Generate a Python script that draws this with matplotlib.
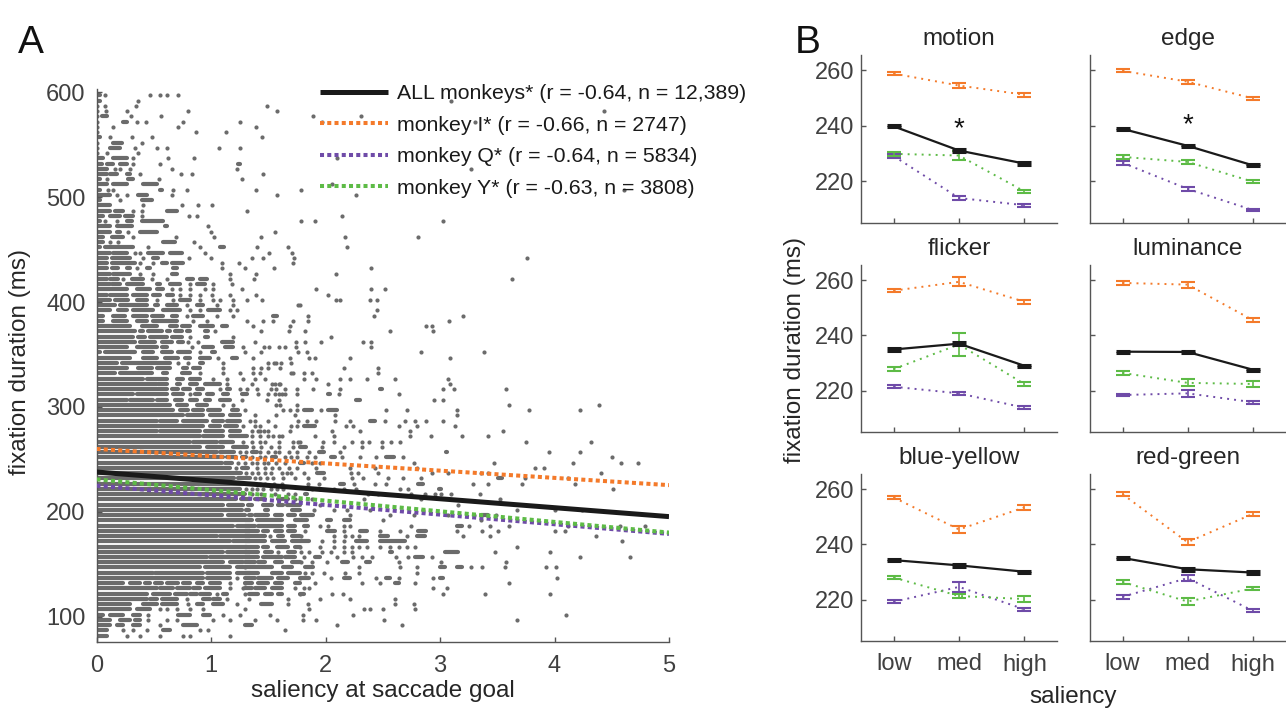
import matplotlib

matplotlib.use("Agg")
import matplotlib.pyplot as plt

plt.rcParams["font.family"] = ["Liberation Sans", "DejaVu Sans"]

GRAY = "#6b6b6b"
C_ALL = "#1a1a1a"
C_I = "#f47a2a"
C_Q = "#6f4ba8"
C_Y = "#5dbb46"
AXC = "#555555"
TXT = "#262626"

# ---------------- panel A: fits ----------------
FIT_X = [0, 5]
FIT_ALL = [238.0, 195.5]
FIT_I = [260.0, 225.5]
FIT_Q = [225.0, 179.0]
FIT_Y = [231.0, 180.3]
LEG_LABELS = [
    "ALL monkeys* (r = -0.64, n = 12,389)",
    "monkey I* (r = -0.66, n = 2747)",
    "monkey Q* (r = -0.64, n = 5834)",
    "monkey Y* (r = -0.63, n = 3808)",
]

# ---------------- panel A: fixations, read row by row ----------------
# each row: (fixation duration, [x of single dots or (x0, x1) runs of touching dots])
SCATTER_TOP = [
    (597, [(0, 0.03), 0.074, 0.467, 0.554, 0.613, 0.714]),
    (592, [(0, 0.03), 0.36]),
    (587, [0, 0.074, 0.345, 1.486]),
    (582, [0, 0.083, 0.263, 0.796, 1.573]),
    (577, [0, (0.045, 0.089), 0.298, 0.563]),
    (572, [0, (0.234, 0.263), 0.35, 0.43, 0.758, 1.253]),
    (567, [0, 0.147, 0.709, 1.39]),
    (562, [0, 0.869, 1.13]),
    (557, [(0, 0.03), 0.118, 0.307, 0.482, 1.442]),
    (552, [0, (0.147, 0.22), 0.40]),
    (547, [0, (0.118, 0.205), 0.336, 0.525, 0.613, 1.072, 1.253]),
    (542, [0, 0.089, 0.36]),
    (537, [(0, 0.06), (0.147, 0.263), 0.321, 0.627, 0.854]),
    (532, [(0, 0.045), (0.089, 0.147), (0.205, 0.263), 0.321, 0.554, (1.233, 1.253)]),
    (527, [(0, 0.089), 0.161, 0.205, 0.292, 0.656, 1.224]),
    (522, [(0, 0.089), (0.118, 0.176), (0.263, 0.292), 0.38, 0.735, 0.831, 1.457]),
    (517, [(0, 0.03), 0.089, (0.278, 0.321), 0.546, 1.267]),
    (512, [(0, 0.089), (0.147, 0.263), (0.409, 0.525)]),
    (507, [(0, 0.03), 0.103, 0.147, (0.554, 0.569), 0.671, 0.793, 1.39]),
    (502, [(0, 0.118), 0.176, 0.263, (0.365, 0.438), 0.656, 1.579]),
    (497, [(0, 0.03), 0.205, (0.394, 0.482)]),
    (492, [(0, 0.118), 0.409, 0.744, 0.889, 1.005]),
    (487, [(0, 0.118), (0.161, 0.234), 0.321, 0.394, (0.613, 0.70), 1.311]),
    (482, [(0, 0.06), (0.118, 0.205), (0.249, 0.321), 0.394, 0.807, 0.88]),
    (477, [(0, 0.03), 0.074, 0.176, (0.263, 0.307), (0.394, 0.583)]),
    (472, [(0, 0.118), (0.176, 0.307), (0.598, 0.613), 0.976]),
    (467, [(0, 0.118), (0.176, 0.205), 0.278, (0.38, 0.525), 0.997, 1.559]),
    (462, [(0, 0.06), (0.132, 0.234), 0.321, 0.694, 1.029, 1.436]),
    (457, [(0, 0.06), 0.118, 0.19, (0.583, 0.685), 0.854]),
    (452, [(0, 0.03), (0.074, 0.321), 0.452, 0.904, (1.078, 1.113), 1.399, 1.675]),
    (447, [(0, 0.118), (0.147, 0.263), 0.336, 0.38, (0.452, 0.583), (0.642, 0.744), 0.947, 1.509, 1.704]),
    (442, [(0, 0.089), (0.132, 0.292), 0.409, (0.496, 0.54), 0.81, 1.0, 1.355, 1.457, 1.725]),
    (437, [(0, 0.089), (0.132, 0.336), 0.38, 0.496, (0.569, 0.613), (0.656, 0.758), 1.093, 1.247, 1.719]),
    (432, [(0, 0.089), (0.132, 0.19), (0.263, 0.292), 0.35, (0.438, 0.467), (0.671, 0.70), 1.096, 1.297, 1.553]),
    (427, [(0, 0.118), (0.147, 0.292), 0.38, 0.496, (0.656, 0.70), 1.165, 1.393]),
    (422, [(0, 0.089), (0.118, 0.19), 0.234, (0.307, 0.409), 0.482, 0.613, (0.787, 0.845), (0.904, 0.962), 1.165, 1.375]),
    (417, [(0, 0.118), (0.132, 0.205), (0.263, 0.409), (0.525, 0.554), (0.642, 0.729), 0.816, (0.875, 0.947), 1.02, 1.18]),
    (412, [(0, 0.263), (0.35, 0.467), (0.525, 0.583), 0.656, 0.729, 0.816, 0.947, 1.02, 1.267]),
    (407, [(0, 0.089), (0.118, 0.263), (0.321, 0.438), (0.496, 0.554), (0.613, 0.671), 0.729, 0.816, 0.904, 1.005, 1.165, 1.393]),
    (402, [(0, 0.118), (0.161, 0.278), (0.35, 0.438), 0.525, 0.671, (0.729, 0.816), 0.904, 1.02, 1.078, 1.195, 1.311, 1.442]),
    (397, [(0, 0.161), (0.205, 0.438), (0.51, 0.54), (0.613, 0.70), 0.787, (0.875, 0.933), 1.049, 1.195, 1.762]),
    (392, [(0, 0.118), (0.19, 0.263), (0.321, 0.496), (0.583, 0.729), 0.816, 0.904, (0.976, 1.078), 1.165, 1.224]),
    (387, [(0, 0.06), (0.147, 0.249), (0.321, 0.438), (0.482, 0.583), (0.656, 0.70), 0.787, (0.845, 0.933), 1.049, 1.195, (1.544, 1.573)]),
    (382, [(0, 0.06), (0.147, 0.263), (0.35, 0.438), (0.496, 0.70), 0.845, 0.962, 1.311, 1.457, 1.544, 1.719]),
    (377, [(0, 0.292), (0.394, 0.525), (0.642, 0.70), (0.744, 0.816), (0.904, 1.02), (1.093, 1.136), 1.37, 1.69]),
]

SCATTER_CORE = [
    (372, [(0, 0.336), (0.38, 0.409), (0.452, 0.569), (0.612, 0.641), (0.685, 0.743), (0.787, 0.816), (0.947, 0.976), 1.034]),
    (367, [(0, 0.321), (0.365, 0.423), (0.467, 0.612), (0.656, 0.743), 0.816, (0.947, 0.976), 1.194]),
    (362, [(0, 0.336), (0.38, 0.51), (0.569, 0.656), (0.714, 0.758), 0.801, 0.889, (1.092, 1.194)]),
    (357, [(0, 0.263), (0.35, 0.525), (0.569, 0.612), 0.83, (0.932, 1.02), (1.121, 1.194), 1.282]),
    (352, [(0, 0.03), (0.074, 0.336), (0.409, 0.496), (0.569, 0.656), (0.714, 0.816), 0.903, (1.005, 1.034), 1.296]),
    (347, [(0, 0.292), (0.409, 0.525), (0.598, 0.714), (0.772, 0.816), (0.903, 0.991), 1.063, (1.18, 1.223)]),
    (342, [(0, 0.176), (0.22, 0.641), 0.714, 0.801, (0.903, 0.932), 1.107]),
    (337, [(0, 0.263), (0.365, 0.481), (0.525, 0.641), (0.758, 0.787), (0.845, 0.903), 1.107]),
    (332, [(0, 0.16), (0.205, 0.481), (0.583, 0.612), (0.743, 0.816), 0.903, 1.107, 1.253]),
    (327, [(0, 0.409), (0.438, 0.612), (0.70, 0.758), (0.816, 0.903), 1.02, 1.136, 1.282]),
    (322, [(0, 0.525), (0.54, 0.612), (0.70, 0.729), (0.816, 0.874), (0.947, 1.078), 1.136]),
    (317, [(0, 0.612), (0.656, 0.714), (0.758, 0.816), (0.874, 0.932), 1.078, (1.136, 1.165), 1.253, 1.311]),
    (312, [(0, 0.321), (0.35, 0.612), (0.67, 0.758), 0.816, (0.86, 0.903), (0.961, 1.02), (1.107, 1.15), (1.267, 1.311)]),
    (307, [(0, 0.263), (0.292, 0.496), (0.525, 0.612), (0.685, 0.743), (0.816, 0.874), (0.947, 0.991), (1.078, 1.165), 1.267]),
    (302, [(0, 0.641), (0.70, 0.787), (0.874, 0.961), 1.107, 1.194]),
    (297, [(0, 0.67), (0.729, 0.801), (0.845, 0.932), (0.976, 1.078), (1.18, 1.238), 1.296]),
    (292, [(0, 0.758), (0.787, 0.932), (0.991, 1.107), (1.165, 1.253)]),
    (287, [(0, 0.525), (0.554, 0.70), (0.758, 0.961), (1.02, 1.107), (1.136, 1.253)]),
    (282, [(0, 0.932), (0.991, 1.078), (1.121, 1.223), 1.282]),
    (277, [(0, 0.525), (0.554, 0.903), (0.947, 1.107), (1.165, 1.253)]),
    (272, [(0, 0.903), (0.932, 1.107), (1.165, 1.311)]),
    (267, [(0, 0.816), (0.845, 1.049), (1.078, 1.194), 1.282]),
    (262, [(0, 0.903), (0.961, 1.107), (1.194, 1.311)]),
    (257, [(0, 1.049), (1.078, 1.20), 1.25, 1.31]),
    (252, [(0, 1.107), (1.136, 1.22), (1.27, 1.31)]),
    (247, [(0, 1.092), (1.121, 1.18), 1.24, 1.30]),
    (242, [(0, 1.165), 1.22, (1.27, 1.32)]),
    (237, [(0, 1.26), 1.31]),
    (232, [(0, 1.20), (1.24, 1.34)]),
    (227, [(0, 1.28)]),
    (222, [(0, 1.25), 1.31]),
    (217, [(0, 1.30)]),
    (212, [(0, 1.22), (1.26, 1.34)]),
    (207, [(0, 1.107), (1.15, 1.28)]),
    (202, [(0, 1.27)]),
    (197, [(0, 1.092), (1.15, 1.30)]),
    (192, [(0, 1.34)]),
    (187, [(0, 1.194), (1.223, 1.34)]),
    (182, [(0, 1.34)]),
    (177, [(0, 1.049), (1.078, 1.34)]),
    (172, [(0, 1.165), (1.194, 1.34)]),
    (167, [(0, 1.311)]),
    (162, [(0, 1.107), (1.136, 1.34)]),
    (157, [(0, 0.961), (0.991, 1.34)]),
    (152, [(0, 1.107), (1.165, 1.282)]),
    (147, [(0, 0.903), (0.947, 1.165), (1.223, 1.34)]),
    (142, [(0, 0.496), (0.51, 0.932), (0.961, 1.165), (1.223, 1.34)]),
    (137, [(0, 0.932), (0.961, 1.165), 1.223]),
    (132, [(0, 0.234), (0.292, 0.38), (0.423, 0.467), (0.51, 0.569), (0.612, 0.714), (0.758, 0.816), (0.874, 0.932), (0.991, 1.078), 1.165, 1.296]),
    (127, [(0, 0.525), (0.554, 0.67), (0.70, 0.816), (0.845, 0.903), (0.947, 1.078), 1.165, 1.282]),
    (122, [(0, 0.438), (0.496, 0.641), (0.685, 0.787), (0.816, 0.874), (0.903, 0.991), 1.049, (1.107, 1.136), 1.296]),
    (117, [(0, 0.438), (0.467, 0.525), (0.569, 0.70), 0.787, (0.932, 0.991), (1.02, 1.078), 1.136]),
    (112, [(0, 0.292), (0.409, 0.525), (0.569, 0.70), 0.801, (0.874, 0.932), (1.02, 1.107), 1.223]),
    (107, [(0, 0.292), (0.35, 0.467), 0.554, 0.612, 0.70, 0.816, 0.932]),
    (102, [(0, 0.06), (0.12, 0.234), (0.321, 0.38), 0.452, (0.714, 0.816), (0.932, 0.991), 1.107, 1.253]),
    (97, [(0, 0.12), (0.205, 0.292), (0.336, 0.38), 0.452, 0.612, 0.70, 1.02, 1.165]),
    (92, [(0, 0.12), (0.176, 0.234), (0.321, 0.38), 0.554, (0.758, 0.874)]),
    (87, [(0, 0.089), 0.234, 0.321, 0.438, (0.583, 0.641), 0.903, 0.976]),
    (82, [(0, 0.089), 0.263, 0.38, 0.554, 0.758, 0.816, 1.165]),
]

SCATTER_MID = [
    (372, [1.44, 1.68]),
    (362, [1.38, 1.74]),
    (357, [1.46, 1.51, 1.59, 1.65, 1.74]),
    (352, [1.44, 1.76]),
    (347, [1.37, 1.69]),
    (342, [1.50, 1.55, 1.57, 1.61, 1.70]),
    (337, [1.37, 1.44, 1.50, 1.60]),
    (332, [1.37, 1.43, 1.70, 1.72]),
    (327, [1.38, 1.47]),
    (322, [1.36, 1.53, 1.56, 1.59, 1.60]),
    (317, [1.40, 1.52, 1.57, 1.65, 1.75]),
    (312, [1.41, 1.50, 1.56, 1.59, 1.62, 1.65, 1.75]),
    (307, [1.49, 1.59]),
    (302, [1.57, 1.60, 1.75]),
    (297, [1.63, 1.69, 1.75]),
    (292, [1.38, 1.57, 1.73]),
    (287, [1.34, 1.38, 1.50, 1.76]),
    (282, [1.38, 1.43, 1.56, 1.70, 1.75]),
    (277, [1.36, 1.41, 1.43, 1.46, 1.50, 1.69]),
    (272, [1.36, 1.43, 1.50, 1.54, 1.59, 1.62]),
    (267, [1.36, 1.43, 1.47, 1.59, 1.72, 1.76]),
    (262, [1.37, 1.44, 1.52, 1.59, 1.72]),
    (257, [(1.36, 1.40), 1.43, 1.50, 1.56, 1.59, 1.68, 1.75]),
    (252, [1.36, 1.43, 1.47, (1.53, 1.57), 1.65, 1.70, 1.75]),
    (247, [1.36, 1.40, 1.46, 1.50, 1.57, 1.65]),
    (242, [1.40, 1.47, 1.53, 1.59, 1.68, 1.75]),
    (237, [1.36, 1.41, 1.47, 1.52, 1.62, 1.66, 1.70]),
    (232, [1.38, 1.43, 1.49, 1.54, 1.63, 1.73]),
    (227, [(1.33, 1.38), 1.43, 1.47, 1.55, 1.62]),
    (222, [1.36, 1.40, 1.45, 1.52, 1.58, 1.63]),
    (217, [1.355, 1.44, 1.56, 1.675, 1.733]),
    (212, [(1.384, 1.47), (1.588, 1.675), 1.733]),
    (207, [(1.32, 1.355), (1.457, 1.53), (1.588, 1.632), (1.66, 1.777)]),
    (202, [(1.31, 1.33), (1.47, 1.50), (1.704, 1.777)]),
    (197, [(1.33, 1.355), (1.384, 1.50), (1.56, 1.617), (1.675, 1.733)]),
    (192, [(1.30, 1.355), (1.40, 1.617), (1.733, 1.777)]),
    (187, [(1.30, 1.384), (1.413, 1.617), (1.675, 1.733)]),
    (182, [(1.30, 1.413), (1.457, 1.50), (1.56, 1.617), (1.675, 1.733)]),
    (177, [(1.30, 1.47), 1.515, (1.588, 1.632), (1.704, 1.777)]),
    (172, [(1.30, 1.47), (1.53, 1.646), (1.704, 1.777)]),
    (167, [(1.30, 1.413), (1.457, 1.50), (1.573, 1.675), (1.733, 1.777)]),
    (162, [(1.30, 1.413), (1.47, 1.53), 1.588, (1.675, 1.733)]),
    (157, [(1.30, 1.413), (1.457, 1.617), (1.646, 1.733)]),
    (152, [(1.30, 1.384), (1.413, 1.47), (1.56, 1.617), (1.704, 1.777)]),
    (147, [1.30, (1.34, 1.53), (1.632, 1.704)]),
    (142, [(1.30, 1.413), (1.53, 1.617), (1.675, 1.777)]),
    (137, [(1.30, 1.384), (1.413, 1.53), (1.588, 1.675), 1.777]),
    (132, [(1.30, 1.355), (1.413, 1.50), (1.56, 1.617), (1.733, 1.777)]),
    (127, [(1.30, 1.355), (1.384, 1.47), (1.53, 1.617), 1.733]),
    (122, [(1.33, 1.413), (1.47, 1.53), (1.588, 1.617), 1.777]),
    (117, [1.33, 1.675]),
    (112, [(1.44, 1.53), 1.675]),
    (107, [1.30]),
    (102, [1.515]),
    (97, [1.384, 1.573]),
    (92, [(1.30, 1.355)]),
    (87, [1.646]),
]

SCATTER_RIGHT = [
    (592, [3.10]), (582, [4.43]), (577, [1.89, 2.31]), (572, [1.97, 3.31]),
    (537, [2.10]), (527, [3.27]), (512, [2.06]), (507, [1.79, 4.61]),
    (502, [2.27]), (482, [2.14]), (477, [1.79, 1.91, 3.03]), (462, [2.17, 2.81]),
    (452, [2.19]), (442, [3.76]), (432, [2.40]), (427, [2.09]), (422, [3.63]),
    (412, [1.92, 2.40, 2.52]), (407, [2.02]), (402, [2.09, 2.13, 2.39, 2.45]),
    (397, [1.78]), (392, [2.45]), (387, [1.85, 2.42, 3.20]), (382, [1.85, 3.08]),
    (377, [2.88, 2.93]),
    (372, [1.82, 2.56, 2.94]),
    (367, [2.05]),
    (362, [1.82, 1.96, 2.33, 2.40]),
    (357, [2.40]),
    (352, [1.84, 2.83, 3.38]),
    (347, [1.86, 1.91, 2.21, 3.09]),
    (337, [2.16, 2.46]),
    (332, [1.81, 1.88, 2.46]),
    (327, [1.81, 1.92, 2.13, 2.21, 2.36, 2.61, 3.07]),
    (322, [2.02, 3.09]),
    (317, [1.89, 2.13, (2.48, 2.49), 3.03, 3.12, 3.58]),
    (312, [(2.02, 2.04), 2.12, 2.64]),
    (307, [(2.27, 2.30), 2.95, 3.03]),
    (302, [3.60, 4.39]),
    (297, [(1.81, 1.88), 1.96, (2.02, 2.10), 2.53, 2.71, 3.15, 3.78, 4.22]),
    (292, [2.08, 3.15]),
    (287, [1.84, 1.92, 2.08, 2.21, (2.39, 2.43), 2.52, 2.69, 2.78, 2.88, 3.03]),
    (282, [(1.81, 1.91), 2.18, 2.24, 2.64, 2.80, 3.13]),
    (277, [2.06, 2.30, 2.74, 3.55]),
    (272, [1.91, 2.07, 2.74, 2.92, 3.19, 3.42]),
    (267, [1.78, 1.98, 2.07, 2.23, 2.32, 2.38, 2.49, 2.57, 2.65, 3.75, 4.32]),
    (262, [(1.78, 1.83), 1.97, 2.16, 2.32, 2.49]),
    (257, [1.86, (1.94, 1.99), 2.13, (3.05, 3.06), 3.95, 4.22]),
    (252, [1.84, 1.91, (2.05, 2.08), 2.14, 2.30, 2.44, (2.53, 2.60), 2.68, 4.50]),
    (247, [(1.78, 1.81), 1.88, 1.95, 2.77, 3.47, 4.16, 4.58, 4.73]),
    (242, [1.92, 2.21, 2.43, 2.80, 3.83, 3.91]),
    (237, [1.81, (1.93, 1.99), 2.22, 2.28, 2.46, 2.93, 3.07, 3.36, 3.42, 4.41]),
    (232, [1.85, 1.99, 2.23, 2.33, 2.55, 2.68, 2.83, (3.51, 3.54), 3.74, 4.12]),
    (227, [1.85, 1.94, (2.13, 2.16), 2.25, 2.43, 2.53, (2.81, 2.85), 3.29, 3.42, 3.72, 4.18]),
    (222, [1.88, 1.95, 2.07, 2.16, 2.27, 2.65, 2.72, (2.99, 3.01), 4.51]),
    (217, [(1.82, 1.84), 2.37, 2.46, 2.75, 2.87, 2.96, 3.01, 3.10, 3.35]),
    (212, [1.78, 1.88, 2.34, 2.83, 3.52]),
    (207, [1.95, 3.16]),
    (202, [1.90, 2.07, 2.19, 2.39, 2.85, 3.67, 4.00, 4.24]),
    (197, [(1.79, 1.89), 2.21, 2.56, 2.77, 3.07, 3.30, (3.36, 3.42), 3.49]),
    (192, [(1.78, 1.84), (2.01, 2.05), (2.16, 2.21), 2.50, 3.36]),
    (187, [(1.81, 1.85), 1.95, 2.02, 2.16, 2.21, 2.75, (3.15, 3.19), 3.25, 3.44, 3.60, 4.12, 4.57, 4.79]),
    (182, [1.82, (2.01, 2.08), 2.16, (2.30, 2.36), 2.48, 2.65, (2.81, 2.88), 3.15, 3.37, 3.51, 4.00, 4.09]),
    (177, [1.79, 2.07, 2.17, 2.23, 2.29, (2.48, 2.55), 2.71, (2.80, 2.87), 3.20, 3.44, 4.36]),
    (172, [(1.78, 1.86), 1.97, 2.07, 2.16, (2.27, 2.36), (2.48, 2.69), 4.59]),
    (167, [1.78, 1.95, 2.07, 2.16, 2.23, 2.29, 2.36, 2.48, 2.56, 2.64, 2.71, 2.78, 3.67]),
    (162, [1.79, 1.86, 1.97, 2.05, 2.16, 2.23, (2.56, 2.58), (3.04, 3.16), 3.48, 3.96]),
    (157, [1.81, (1.91, 1.95), 2.10, 2.24, 2.32, 2.41, 2.62, 2.72, (2.78, 2.85), 2.93, 4.22, 4.66]),
    (152, [1.79, 1.88, 2.01, (2.14, 2.20), (2.35, 2.39), 2.64, 3.01, 3.58]),
    (147, [(1.82, 1.89), 2.29, 2.65, 2.80, (3.00, 3.04), (3.15, 3.19), 3.27, 3.37, 3.57, 3.93, 4.01]),
    (142, [1.82, 1.88, 1.99, 2.17, 2.29, 2.80]),
    (137, [(1.78, 1.86), 2.05, (2.16, 2.21), 2.44, (2.53, 2.56), 2.64, 2.94, (3.00, 3.03), 4.02]),
    (132, [1.91, 2.32, 2.48, (2.61, 2.64), 2.78, 3.60]),
    (127, [1.81, 1.86, 2.94, 3.06]),
    (122, [(1.78, 1.81), 2.06, 2.15, 3.03, 3.39, 3.96]),
    (117, [1.95, 2.21, 2.61]),
    (112, [1.85, 2.61, 2.77]),
    (107, [1.86, 2.34, 2.39, 2.50, 2.78]),
    (102, [1.80, 2.24, 4.10]),
    (97, [1.80, 1.92, 2.51, 3.67]),
    (92, [2.10, 2.67]),
]

# ---------------- panel B ----------------
FEATURES = ["motion", "edge", "flicker", "luminance", "blue-yellow", "red-green"]
SALIENCY = ["low", "med", "high"]
MEAN_ALL = [[239.8, 231.1, 226.4], [238.9, 232.8, 225.8], [234.9, 237.0, 229.0],
            [234.1, 234.0, 227.6], [234.3, 232.4, 230.1], [235.1, 231.0, 229.8]]
MEAN_I = [[258.8, 254.5, 251.2], [259.8, 255.9, 249.9], [256.2, 259.4, 252.2],
          [259.0, 258.4, 245.6], [257.0, 245.4, 253.4], [258.2, 240.8, 251.0]]
MEAN_Q = [[229.1, 214.0, 211.4], [226.7, 217.3, 209.7], [221.4, 219.0, 213.8],
          [218.4, 219.0, 215.8], [219.2, 224.6, 216.5], [221.0, 227.8, 216.0]]
MEAN_Y = [[229.9, 229.3, 216.4], [228.8, 227.0, 219.9], [227.8, 236.7, 222.4],
          [226.4, 222.8, 222.4], [228.0, 221.3, 220.2], [226.4, 219.3, 224.0]]
SEM_ALL = [[0.4, 0.5, 0.4], [0.4, 0.4, 0.4], [0.4, 0.6, 0.4],
           [0.4, 0.5, 0.4], [0.4, 0.6, 0.4], [0.4, 0.5, 0.4]]
SEM_I = [[0.6, 0.8, 0.7], [0.6, 0.7, 0.6], [0.6, 1.6, 0.7],
         [0.6, 1.1, 0.7], [0.6, 1.3, 0.8], [0.6, 1.2, 0.6]]
SEM_Q = [[0.6, 0.6, 0.5], [0.7, 0.6, 0.5], [0.6, 0.5, 0.5],
         [0.5, 1.2, 0.6], [0.5, 1.7, 0.6], [0.7, 1.1, 0.5]]
SEM_Y = [[0.8, 1.5, 0.6], [0.8, 0.7, 0.6], [0.6, 4.3, 0.6],
         [0.6, 1.3, 1.0], [0.6, 0.7, 1.0], [0.6, 1.2, 0.6]]
STAR_FEATURES = ["motion", "edge"]

W, H = 1286, 711


def px_axes(fig, left, top, right, bottom):
    return fig.add_axes([left / W, 1 - bottom / H, (right - left) / W, (bottom - top) / H])


def style_axes(ax, size=17):
    for s in ["top", "right"]:
        ax.spines[s].set_visible(False)
    for s in ["left", "bottom"]:
        ax.spines[s].set_color(AXC)
        ax.spines[s].set_linewidth(1.0)
    ax.tick_params(direction="in", length=3.5, width=1.0, color=AXC,
                   labelsize=size, labelcolor="#404040")


def draw_rows(ax, rows):
    ys, x0s, x1s, dx, dy = [], [], [], [], []
    for y, items in rows:
        for it in items:
            if isinstance(it, tuple):
                ys.append(y)
                x0s.append(it[0])
                x1s.append(it[1])
            else:
                dx.append(it)
                dy.append(y)
    lc = ax.hlines(ys, x0s, x1s, colors=GRAY, linewidth=3.0, zorder=1)
    lc.set_capstyle("round")
    ax.scatter(dx, dy, s=9.0, color=GRAY, linewidths=0, zorder=1)


fig = plt.figure(figsize=(W / 100, H / 100), dpi=100)
fig.patch.set_facecolor("white")

# ---- panel A ----
axA = px_axes(fig, 96.5, 89, 669, 642)
for rows in (SCATTER_TOP, SCATTER_CORE, SCATTER_MID, SCATTER_RIGHT):
    draw_rows(axA, rows)
dot = (0, (1.0, 0.8))
h_all, = axA.plot(FIT_X, FIT_ALL, color=C_ALL, lw=3.6, zorder=4, solid_capstyle="butt")
h_i, = axA.plot(FIT_X, FIT_I, color=C_I, lw=2.9, ls=dot, zorder=3)
h_q, = axA.plot(FIT_X, FIT_Q, color=C_Q, lw=2.9, ls=dot, zorder=3)
h_y, = axA.plot(FIT_X, FIT_Y, color=C_Y, lw=2.9, ls=dot, zorder=3)
axA.set_xlim(0, 5)
axA.set_ylim(76, 603)
axA.set_xticks(range(6))
axA.set_yticks([100, 200, 300, 400, 500, 600])
style_axes(axA)
axA.tick_params(axis="x", pad=9)
axA.tick_params(axis="y", pad=8)
leg = axA.legend([h_all, h_i, h_q, h_y], LEG_LABELS, loc="upper left",
                 bbox_to_anchor=(0.39, 1.009), frameon=False, fontsize=15.3,
                 handlelength=3.2, handletextpad=0.45, labelspacing=0.59,
                 borderpad=0, borderaxespad=0)
for t in leg.get_texts():
    t.set_color("#1a1a1a")
fig.text(383 / W, 1 - 691 / H, "saliency at saccade goal", fontsize=17.5,
         color=TXT, ha="center", va="center")
fig.text(20 / W, 1 - 362 / H, "fixation duration (ms)", fontsize=17.5,
         color=TXT, ha="center", va="center", rotation=90)
fig.text(31 / W, 1 - 43 / H, "A", fontsize=28, color="#111111", ha="center", va="center")

# ---- panel B ----
cols = [(861, 1057), (1090, 1285)]
rows_px = [(55, 223), (265, 432), (474, 641)]
xs = [1, 2, 3]
for k, feat in enumerate(FEATURES):
    r, c = divmod(k, 2)
    ax = px_axes(fig, cols[c][0], rows_px[r][0], cols[c][1], rows_px[r][1])
    for means, sems, col in ((MEAN_I, SEM_I, C_I), (MEAN_Q, SEM_Q, C_Q), (MEAN_Y, SEM_Y, C_Y)):
        ax.plot(xs, means[k], color=col, lw=1.4, ls=(0, (1, 2.6)), zorder=2)
        ax.errorbar(xs, means[k], yerr=sems[k], fmt="none", ecolor=col,
                    elinewidth=1.2, capsize=5, capthick=1.5, zorder=3)
    ax.plot(xs, MEAN_ALL[k], color=C_ALL, lw=1.6, zorder=4)
    ax.errorbar(xs, MEAN_ALL[k], yerr=SEM_ALL[k], fmt="none", ecolor=C_ALL,
                elinewidth=1.5, capsize=5, capthick=2.2, zorder=5)
    if feat in STAR_FEATURES:
        ax.text(2, MEAN_ALL[k][1] + 7.5, "*", fontsize=20, ha="center", va="center", color="#111111")
    ax.set_xlim(0.5, 3.5)
    ax.set_ylim(205, 265.5)
    ax.set_yticks([220, 240, 260])
    ax.set_xticks(xs)
    style_axes(ax)
    ax.tick_params(axis="y", pad=5)
    ax.tick_params(axis="x", pad=9)
    if c == 1:
        ax.set_yticklabels([])
    if r < 2:
        ax.set_xticklabels([])
    else:
        ax.set_xticklabels(SALIENCY)
    ax.set_title(feat, fontsize=17.5, color=TXT, pad=7)

fig.text(795 / W, 1 - 350 / H, "fixation duration (ms)", fontsize=17.5,
         color=TXT, ha="center", va="center", rotation=90)
fig.text(1073 / W, 1 - 697 / H, "saliency", fontsize=17.5, color=TXT,
         ha="center", va="center")
fig.text(808 / W, 1 - 43 / H, "B", fontsize=28, color="#111111", ha="center", va="center")

fig.savefig("out.png", dpi=100, facecolor="white")
